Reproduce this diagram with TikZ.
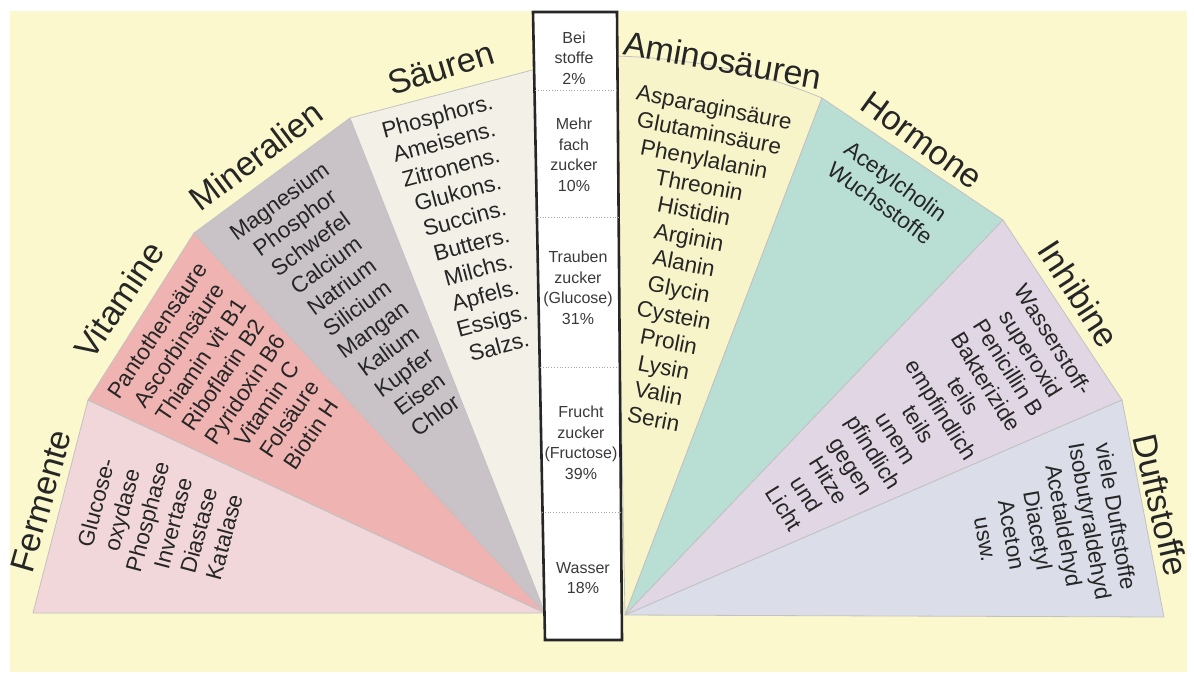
\documentclass[tikz,border=0pt]{standalone}
\usepackage{fontspec}
\setmainfont{Liberation Sans}
\definecolor{bgY}{HTML}{FAF8CC}
\definecolor{cFer}{HTML}{F1D7DA}
\definecolor{cVit}{HTML}{EFB3B1}
\definecolor{cMin}{HTML}{C9C3C7}
\definecolor{cSae}{HTML}{F3F0E8}
\definecolor{cAmi}{HTML}{F8F4C9}
\definecolor{cHor}{HTML}{B9DED4}
\definecolor{cInh}{HTML}{E1D6E3}
\definecolor{cDuf}{HTML}{DBDDE8}
\definecolor{txt}{HTML}{262626}
\definecolor{boxtxtc}{HTML}{3A3A3A}
\begin{document}
\begin{tikzpicture}[x=1pt,y=-1pt,
  cat/.style={font=\fontsize{34}{38}\selectfont, inner sep=0pt, text=txt},
  items/.style={font=\fontsize{22.5}{26.5}\selectfont, align=center, inner sep=0pt, text=txt},
  boxtxt/.style={font=\fontsize{16}{20.5}\selectfont, align=center, inner sep=0pt, text=boxtxtc},
  fanpart/.style={draw=black!24, line width=0.8pt, line join=round},
  sepline/.style={draw=black!35, dotted, line width=0.8pt}]
\useasboundingbox (0,0) rectangle (1194,673);
\fill[white] (0,0) rectangle (1194,673);
\fill[bgY] (10,11) rectangle (1187,672);

% fan coordinates
\coordinate (L) at (545,613);
\coordinate (R) at (625,615);
\coordinate (P1) at (33,613);
\coordinate (P2) at (88,400);
\coordinate (P3) at (194,233);
\coordinate (P4) at (350,118);
\coordinate (P5) at (540,68);
\coordinate (Q0) at (615,56);
\coordinate (Q1) at (822,98);
\coordinate (Q2) at (1003,220);
\coordinate (Q3) at (1122,400);
\coordinate (Q4) at (1164,617);

% left fan
\filldraw[fanpart, fill=cFer] (L) -- (P1) -- (P2) -- cycle;
\filldraw[fanpart, fill=cVit] (L) -- (P2) -- (P3) -- cycle;
\filldraw[fanpart, fill=cMin] (L) -- (P3) -- (P4) -- cycle;
\filldraw[fanpart, fill=cSae] (L) -- (P4) -- (P5) -- cycle;
% right fan
\filldraw[fanpart, fill=cAmi] (R) -- (Q0) .. controls (690,58) and (760,72) .. (Q1) -- cycle;
\filldraw[fanpart, fill=cHor] (R) -- (Q1) -- (Q2) -- cycle;
\filldraw[fanpart, fill=cInh] (R) -- (Q2) -- (Q3) -- cycle;
\filldraw[fanpart, fill=cDuf] (R) -- (Q3) -- (Q4) -- cycle;

% central box
\filldraw[fill=white, draw=black!85, line width=2.6pt] (533,12) -- (617,12) -- (622,640) -- (545,640) -- cycle;
\draw[sepline] (535,90) -- (618,90);
\draw[sepline] (537,217) -- (619,217);
\draw[sepline] (540,367) -- (620,367);
\draw[sepline] (542,512) -- (621,512);
\node[boxtxt] (b1) at (574,58) {Bei\\stoffe\\2\%};
\node[boxtxt] (b2) at (574,155) {Mehr\\fach\\zucker\\10\%};
\node[boxtxt] (b3) at (578,288) {Trauben\\zucker\\(Glucose)\\31\%};
\node[boxtxt] (b4) at (581,443) {Frucht\\zucker\\(Fructose)\\39\%};
\node[boxtxt] (b5) at (583,578) {Wasser\\18\%};

% category labels
\node[cat, rotate=74] (tFer) at (41,501) {Fermente};
\node[cat, rotate=56] (tVit) at (119,300) {Vitamine};
\node[cat, rotate=37] (tMin) at (256,156) {Mineralien};
\node[cat, rotate=17] (tSae) at (441,68) {Säuren};
\node[cat, rotate=-10] (tAmi) at (723,60) {Aminosäuren};
\node[cat, rotate=-36] (tHor) at (922,140) {Hormone};
\node[cat, rotate=-57] (tInh) at (1079,294) {Inhibine};
\node[cat, rotate=-77] (tDuf) at (1161,505) {Duftstoffe};

% item lists
\node[items, rotate=75] (lFer) at (160,520) {Glucose-\\oxydase\\Phosphase\\Invertase\\Diastase\\Katalase};
\node[items, rotate=56] (lVit) at (234,382) {Pantothensäure\\Ascorbinsäure\\Thiamin vit B1\\Riboflarin B2\\Pyridoxin B6\\Vitamin C\\Folsäure\\Biotin H};
\node[items, rotate=36] (lMin) at (357,308) {Magnesium\\Phosphor\\Schwefel\\Calcium\\Natrium\\Silicium\\Mangan\\Kalium\\Kupfer\\Eisen\\Chlor};
\node[items, rotate=15] (lSae) at (468,231) {Phosphors.\\Ameisens.\\Zitronens.\\Glukons.\\Succins.\\Butters.\\Milchs.\\Apfels.\\Essigs.\\Salzs.};
\node[items, rotate=-11] (lAmi) at (684,263) {Asparaginsäure\\Glutaminsäure\\Phenylalanin\\Threonin\\Histidin\\Arginin\\Alanin\\Glycin\\Cystein\\Prolin\\Lysin\\Valin\\Serin};
\node[items, rotate=-36] (lHor) at (888,192) {Acetylcholin\\Wuchsstoffe};
\node[items, rotate=-58] (lInh) at (919,424) {Wasserstoff-\\superoxid\\Penicillin B\\Bakterizide\\teils\\empfindlich\\teils\\unem\\pfindlich\\gegen\\Hitze\\und\\Licht};
\node[items, rotate=-80] (lDuf) at (1051,528) {viele Duftstoffe\\Isobutyraldehyd\\Acetaldehyd\\Diacetyl\\Aceton\\usw.};
\end{tikzpicture}
\end{document}
